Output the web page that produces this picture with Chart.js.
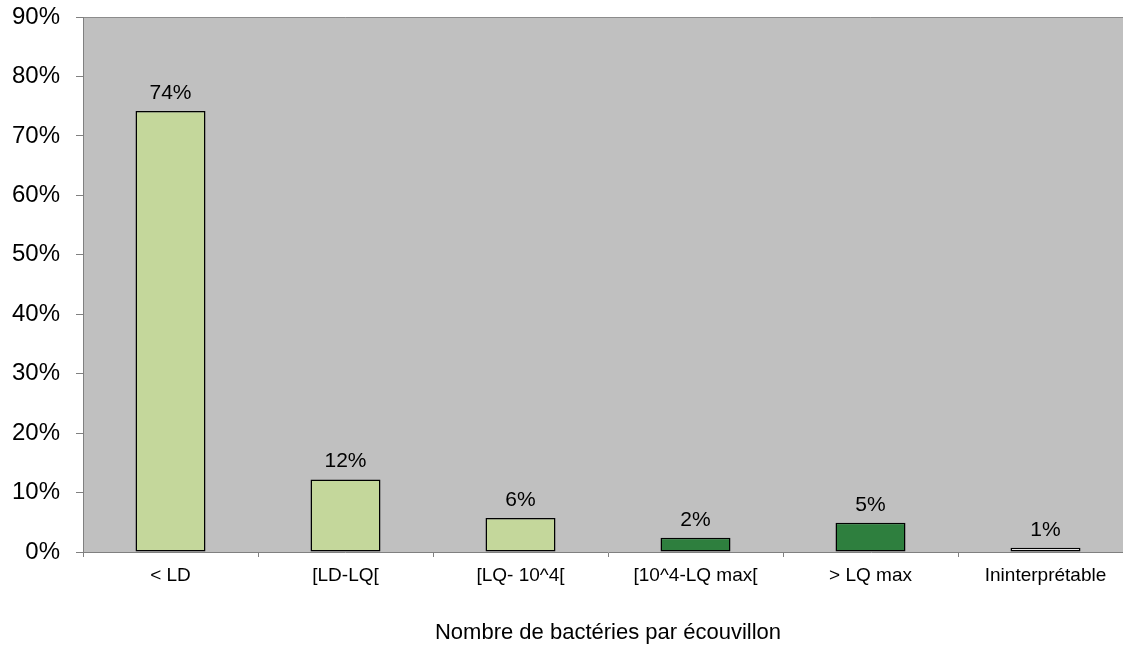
<!DOCTYPE html>
<html>
<head>
<meta charset="utf-8">
<script src="https://cdn.jsdelivr.net/npm/chart.js@4.4.1/dist/chart.umd.min.js"></script>
<style>
  html, body { margin: 0; padding: 0; background: #ffffff; overflow: hidden; }
  #wrap { position: relative; width: 1140px; height: 646px; }
</style>
</head>
<body>
<div id="wrap"><canvas id="chart"></canvas></div>
<script>
// Share of swabs per bacterial-count class (%)
const categories = ['< LD', '[LD-LQ[', '[LQ- 10^4[', '[10^4-LQ max[', '> LQ max', 'Ininterprétable'];
const shares = [74.2, 12.2, 5.7, 2.4, 4.9, 0.7];
const barColors = ['#C4D79B', '#C4D79B', '#C4D79B', '#2E7F3E', '#2E7F3E', '#FFFFFF'];
const yTicks = [0, 10, 20, 30, 40, 50, 60, 70, 80, 90];
const xTitle = 'Nombre de bactéries par écouvillon';

const FONT = "'Liberation Sans', Arial, sans-serif";

// Grey plot background with a thin frame line along the top
const plotBackground = {
  id: 'plotBackground',
  beforeDraw(chart) {
    const { ctx, chartArea: a } = chart;
    ctx.save();
    ctx.fillStyle = '#C0C0C0';
    ctx.fillRect(a.left, a.top, a.right - a.left, a.bottom - a.top);
    ctx.strokeStyle = '#8C8C8C';
    ctx.lineWidth = 1;
    ctx.beginPath();
    ctx.moveTo(a.left, a.top + 0.5);
    ctx.lineTo(a.right, a.top + 0.5);
    ctx.stroke();
    ctx.restore();
  }
};

// Rounded percentage written above each bar
const valueLabels = {
  id: 'valueLabels',
  afterDatasetsDraw(chart) {
    const { ctx } = chart;
    const meta = chart.getDatasetMeta(0);
    const data = chart.data.datasets[0].data;
    ctx.save();
    ctx.font = '21px ' + FONT;
    ctx.fillStyle = '#000000';
    ctx.textAlign = 'center';
    ctx.textBaseline = 'alphabetic';
    meta.data.forEach((bar, i) => {
      ctx.fillText(Math.round(data[i]) + '%', bar.x, bar.y - 12);
    });
    ctx.restore();
  }
};

new Chart(document.getElementById('chart'), {
  type: 'bar',
  data: {
    labels: categories,
    datasets: [{
      data: shares,
      backgroundColor: barColors,
      borderColor: '#000000',
      borderWidth: 1.5,
      borderSkipped: false,
      categoryPercentage: 1.0,
      barPercentage: 0.4
    }]
  },
  options: {
    responsive: true,
    maintainAspectRatio: false,
    animation: false,
    layout: { padding: { top: 17, right: 7, left: 0, bottom: 0 } },
    plugins: {
      legend: { display: false },
      tooltip: { enabled: false }
    },
    scales: {
      x: {
        offset: true,
        grid: {
          offset: true,
          drawOnChartArea: false,
          drawTicks: true,
          tickLength: 5,
          color: '#808080'
        },
        border: { display: true, color: '#808080', width: 1 },
        ticks: {
          color: '#000000',
          font: { family: FONT, size: 19 },
          padding: 7,
          maxRotation: 0,
          autoSkip: false
        },
        title: {
          display: true,
          text: xTitle,
          color: '#000000',
          font: { family: FONT, size: 22 },
          padding: { top: 26, bottom: 0 }
        },
        afterFit(scale) { scale.height = 94; }
      },
      y: {
        min: 0,
        max: 90,
        afterBuildTicks(scale) { scale.ticks = yTicks.map(v => ({ value: v })); },
        grid: {
          drawOnChartArea: false,
          drawTicks: true,
          tickLength: 7,
          color: '#808080'
        },
        border: { display: true, color: '#808080', width: 1 },
        ticks: {
          color: '#000000',
          font: { family: FONT, size: 24 },
          padding: 16,
          callback: v => v + '%'
        },
        afterFit(scale) {
          scale.width = 83;
          scale.paddingTop = 0;
          scale.paddingBottom = 0;
        }
      }
    }
  },
  plugins: [plotBackground, valueLabels]
});
</script>
</body>
</html>
